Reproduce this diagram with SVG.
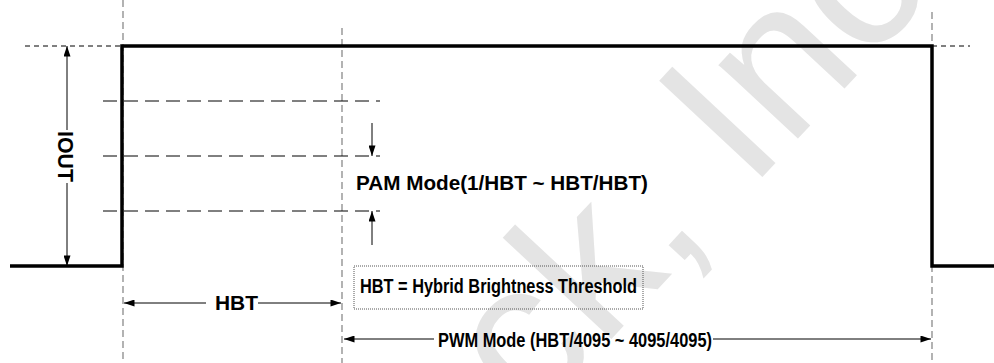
<svg xmlns="http://www.w3.org/2000/svg" width="994" height="363" viewBox="0 0 994 363">
<style>
.wm{font-family:"Liberation Sans",Arial,sans-serif;font-size:205px;fill:#e4e4e4}
.lbl{font-family:"Liberation Sans",Arial,sans-serif;font-weight:bold;font-size:20px;fill:#000}
.wave{fill:none;stroke:#000;stroke-width:3.5;stroke-linejoin:miter}
.gridv{stroke:#808080;stroke-width:1.2;stroke-dasharray:7,4;fill:none}
.lvl{stroke:#000;stroke-width:1;stroke-dasharray:14,7;fill:none}
.ref{stroke:#000;stroke-width:1;stroke-dasharray:5,4;fill:none}
.arr{stroke:#000;stroke-width:1;fill:none}
</style>
<defs>
<marker id="ah" viewBox="0 0 12 8" refX="12" refY="4" markerWidth="12" markerHeight="7" markerUnits="userSpaceOnUse" orient="auto-start-reverse">
<path d="M0,0 L12,4 L0,8 Z" fill="#000"/>
</marker>
</defs>
<rect width="994" height="363" fill="#fff"/>
<g id="watermark">
<text class="wm" transform="translate(532,424) rotate(-47)">ck, Inc</text>
</g>
<g id="guides">
<line class="gridv" x1="123" y1="0" x2="123" y2="363"/>
<line class="gridv" x1="342" y1="28" x2="342" y2="363"/>
<line class="gridv" x1="932" y1="12" x2="932" y2="363"/>
<line class="ref" x1="25" y1="46" x2="122" y2="46"/>
<line class="ref" x1="932" y1="46" x2="970" y2="46"/>
<line class="lvl" x1="103" y1="101" x2="380" y2="101"/>
<line class="lvl" x1="103" y1="156" x2="380" y2="156"/>
<line class="lvl" x1="103" y1="211" x2="380" y2="211"/>
</g>
<g id="waveform">
<path class="wave" d="M10,266 H122 V46 H932 V266 H994"/>
</g>
<g id="connectors">
<line class="arr" x1="67" y1="130" x2="67" y2="46" marker-end="url(#ah)"/>
<line class="arr" x1="67" y1="183" x2="67" y2="266" marker-end="url(#ah)"/>
<line class="arr" x1="372" y1="123" x2="372" y2="156" marker-end="url(#ah)"/>
<line class="arr" x1="372" y1="245" x2="372" y2="211" marker-end="url(#ah)"/>
<line class="arr" x1="206" y1="303" x2="124" y2="303" marker-end="url(#ah)"/>
<line class="arr" x1="258" y1="303" x2="341" y2="303" marker-end="url(#ah)"/>
<line class="arr" x1="434" y1="339" x2="344" y2="339" marker-end="url(#ah)"/>
<line class="arr" x1="713" y1="339" x2="931" y2="339" marker-end="url(#ah)"/>
</g>
<g id="iout-label">
<text class="lbl" style="font-size:22px" transform="translate(58,131) rotate(90)" textLength="51" lengthAdjust="spacingAndGlyphs">IOUT</text>
</g>
<g id="pam-label">
<text class="lbl" x="356" y="190" textLength="292" lengthAdjust="spacingAndGlyphs">PAM Mode(1/HBT ~ HBT/HBT)</text>
</g>
<g id="hbt-definition">
<rect x="354" y="266" width="289" height="43" fill="none" stroke="#555" stroke-width="1" stroke-dasharray="1,1"/>
<text class="lbl" x="360" y="293" textLength="277" lengthAdjust="spacingAndGlyphs">HBT = Hybrid Brightness Threshold</text>
</g>
<g id="hbt-label">
<text class="lbl" x="215" y="310" textLength="43" lengthAdjust="spacingAndGlyphs">HBT</text>
</g>
<g id="pwm-label">
<text class="lbl" x="438" y="347" textLength="274" lengthAdjust="spacingAndGlyphs">PWM Mode (HBT/4095 ~ 4095/4095)</text>
</g>
</svg>
